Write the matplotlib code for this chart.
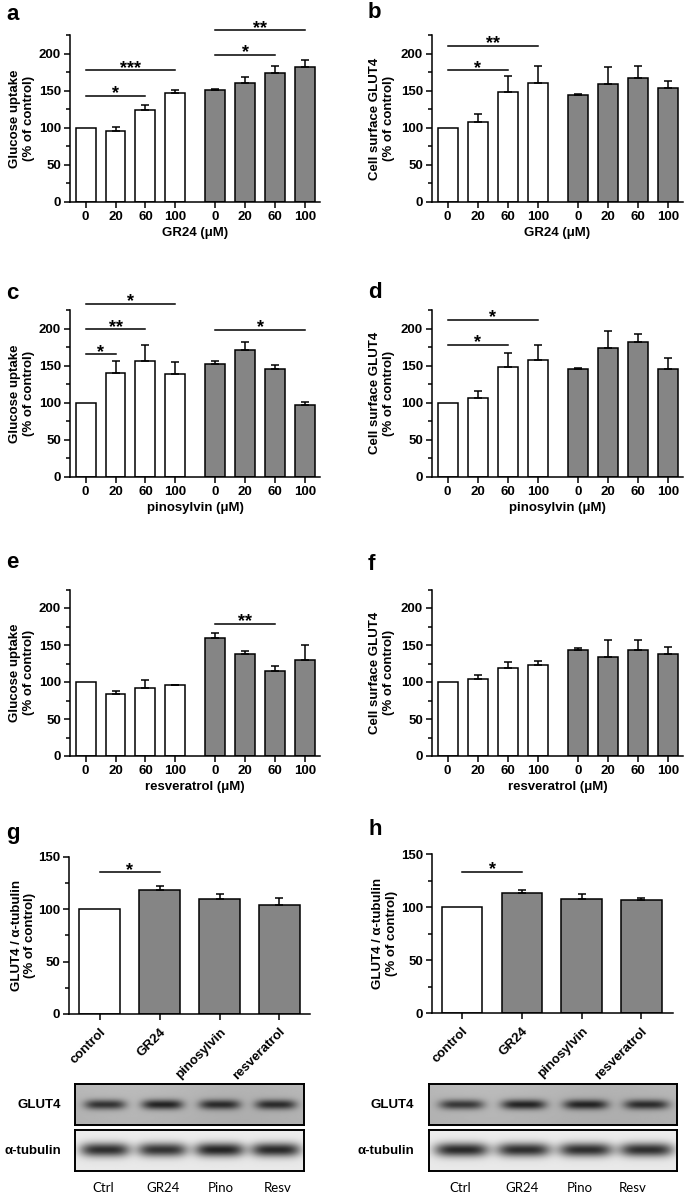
import numpy as np
import matplotlib
matplotlib.use('Agg')
import matplotlib.pyplot as plt
from matplotlib.ticker import MultipleLocator

plt.rcParams['font.family'] = ['Liberation Sans', 'DejaVu Sans']
plt.rcParams['font.weight'] = 'bold'
plt.rcParams['axes.labelweight'] = 'bold'

W, H = 685, 1194
fig = plt.figure(figsize=(W / 100, H / 100), dpi=100)

# ---------------- data ----------------
doses = ['0', '20', '60', '100', '0', '20', '60', '100']
groups = [0, 0, 0, 0, 1, 1, 1, 1]   # 0 = white (basal), 1 = grey

a_vals = [100, 95.5, 123.4, 146.4, 151.4, 160.8, 173.9, 182.0]
a_err = [0, 5, 7, 5, 1.3, 7, 10, 9]
a_sig = [(0, 2, 143, '*'), (0, 3, 177.5, '***'), (4, 6, 198, '*'), (4, 7, 231.5, '**')]

b_vals = [100, 108.1, 148.2, 160.4, 144.1, 158.6, 167.1, 154.0]
b_err = [0, 11, 21, 23, 2, 23, 16, 9]
b_sig = [(0, 2, 177.5, '*'), (0, 3, 210.8, '**')]

c_vals = [100, 139.6, 156.3, 139.2, 151.8, 171.6, 145.0, 96.4]
c_err = [0, 16.7, 21, 15, 5, 10, 5.5, 5]
c_sig = [(0, 1, 165.3, '*'), (0, 2, 199, '**'), (0, 3, 233.3, '*'), (4, 7, 198.2, '*')]

d_vals = [100, 106.8, 148.6, 157.7, 145.0, 173.9, 181.5, 145.5]
d_err = [0, 9.5, 19, 20, 2, 23, 11, 15]
d_sig = [(0, 2, 177.9, '*'), (0, 3, 211.7, '*')]

e_vals = [100, 83.5, 92.5, 95.7, 158.9, 137.7, 115.1, 130.0]
e_err = [0, 5, 10, 0.7, 7, 3.6, 6, 20]
e_sig = [(4, 6, 178.8, '**')]

f_vals = [100, 104.0, 119.4, 123.5, 143.8, 134.3, 142.9, 138.4]
f_err = [0, 5, 8, 4.5, 2.7, 22, 14, 9]
f_sig = []

wb_labels = ['control', 'GR24', 'pinosylvin', 'resveratrol']
wb_groups = [0, 1, 1, 1]
g_vals = [100, 117.9, 109.6, 104.2]
g_err = [0, 3.8, 4.5, 6]
g_sig = [(0, 1, 135, '*')]
h_vals = [100, 113.5, 108.2, 106.9]
h_err = [0, 3, 4.7, 2]
h_sig = [(0, 1, 133.3, '*')]

lanes = ['Ctrl', 'GR24', 'Pino', 'Resv']
g_glut4_band = [0.52, 0.58, 0.53, 0.53]
g_tub_band = [0.74, 0.72, 0.78, 0.76]
h_glut4_band = [0.50, 0.58, 0.56, 0.53]
h_tub_band = [0.76, 0.74, 0.74, 0.74]

FILL = ['white', '#858585']


def ax_at(l, t, r, b):
    return fig.add_axes([l / W, 1 - b / H, (r - l) / W, (b - t) / H])


def ftext(x, y, s, **kw):
    return fig.text(x / W, 1 - y / H, s, **kw)


def style_axis(ax, ytop):
    for s in ['top', 'right']:
        ax.spines[s].set_visible(False)
    for s in ['left', 'bottom']:
        ax.spines[s].set_linewidth(1.1)
    ax.tick_params(axis='both', which='major', direction='out', length=4.5,
                   width=1.1, labelsize=9.5, pad=2)
    ax.tick_params(axis='y', which='minor', direction='out', length=3, width=1.1)
    ax.yaxis.set_major_locator(MultipleLocator(50))
    ax.yaxis.set_minor_locator(MultipleLocator(25))
    ax.set_ylim(0, ytop)


def draw_bars(ax, xs, vals, errs, grp, width):
    cols = [FILL[g] for g in grp]
    ax.bar(xs, vals, width=width, color=cols, edgecolor='black', linewidth=1.1, zorder=2)
    xe = [x for x, e in zip(xs, errs) if e > 0]
    ve = [v for v, e in zip(vals, errs) if e > 0]
    ee = [e for e in errs if e > 0]
    ax.errorbar(xe, ve, yerr=[np.zeros(len(ee)), ee], fmt='none', ecolor='black',
                elinewidth=1.1, capsize=2.6, capthick=1.1, zorder=3)


def draw_sig(ax, xs, sig):
    for i, j, y, s in sig:
        ax.plot([xs[i], xs[j]], [y, y], color='black', lw=1.1, clip_on=False, zorder=4)
        ax.annotate(s, xy=((xs[i] + xs[j]) / 2, y), xytext=(0, -1.8),
                    textcoords='offset points', ha='center', va='baseline',
                    fontsize=13, fontweight='bold', annotation_clip=False)


xpos = [i + (0.333 if g else 0) for i, g in enumerate(groups)]

dose_panels = [
    (a_vals, a_err, a_sig, 70, 320, 35, 202, 'Glucose uptake\n(% of control)', 'GR24 (μM)', 22),
    (b_vals, b_err, b_sig, 432, 683, 35, 202, 'Cell surface GLUT4\n(% of control)', 'GR24 (μM)', 382),
    (c_vals, c_err, c_sig, 70, 320, 310, 476.7, 'Glucose uptake\n(% of control)', 'pinosylvin (μM)', 22),
    (d_vals, d_err, d_sig, 432, 683, 310, 476.7, 'Cell surface GLUT4\n(% of control)', 'pinosylvin (μM)', 382),
    (e_vals, e_err, e_sig, 70, 320, 589.5, 756, 'Glucose uptake\n(% of control)', 'resveratrol (μM)', 22),
    (f_vals, f_err, f_sig, 432, 683, 589.5, 756, 'Cell surface GLUT4\n(% of control)', 'resveratrol (μM)', 382),
]

for vals, err, sig, l, r, t, b, ylab, xlab, ylx in dose_panels:
    ax = ax_at(l, t, r, b)
    style_axis(ax, 225)
    draw_bars(ax, xpos, vals, err, groups, 0.667)
    draw_sig(ax, xpos, sig)
    ax.set_xlim(-0.52, 7.83)
    ax.set_xticks(xpos)
    ax.set_xticklabels(doses)
    ax.set_xlabel(xlab, fontsize=9.5, labelpad=3)
    ftext(ylx, (t + b) / 2, ylab, rotation=90, ha='center', va='center',
          fontsize=9.5, fontweight='bold', linespacing=1.15)

# ---------------- western blot quantification ----------------
wb_panels = [
    (g_vals, g_err, g_sig, 69.3, 310, 856.7, 1014, (-0.51, 3.51), 23.5,
     (75, 304), g_glut4_band, g_tub_band, 61, [103, 163, 221, 278]),
    (h_vals, h_err, h_sig, 432.3, 673, 854.3, 1013.3, (-0.5, 3.53), 385,
     (429, 677), h_glut4_band, h_tub_band, 414, [460, 521.7, 580, 633]),
]


def make_blot(intens, kind, w=240, h=42):
    yy, xx = np.mgrid[0:h, 0:w].astype(float)
    centers = (np.array([0.13, 0.38, 0.63, 0.875]) * w)
    if kind == 'glut4':
        img = 0.72 - 0.03 * (yy / h) + 0.015 * np.sin(xx / 37.0)
        for c, a in zip(centers, intens):
            img -= a * np.exp(-((xx - c) / (0.09 * w)) ** 4 - ((yy - 0.49 * h) / (0.12 * h)) ** 2)
    else:
        img = 0.93 - 0.02 * (yy / h)
        for c, a in zip(centers, intens):
            img -= a * np.exp(-((xx - c) / (0.108 * w)) ** 4 - ((yy - 0.47 * h) / (0.17 * h)) ** 2)
    return np.clip(img, 0, 1)


for (vals, err, sig, l, r, t, b, xl, ylx, (bl, br), gband, tband, labx, lanex) in wb_panels:
    ax = ax_at(l, t, r, b)
    style_axis(ax, 150)
    xs = list(range(len(vals)))
    draw_bars(ax, xs, vals, err, wb_groups, 0.68)
    draw_sig(ax, xs, sig)
    ax.set_xlim(*xl)
    ax.set_xticks(xs)
    ax.set_xticklabels(wb_labels, rotation=45, ha='right', rotation_mode='anchor')
    ax.tick_params(axis='x', pad=4)
    ftext(ylx, (t + b) / 2, 'GLUT4 / α-tubulin\n(% of control)', rotation=90,
          ha='center', va='center', fontsize=9.5, fontweight='bold', linespacing=1.15)

    for (bt, bb, kind, band, name) in [(1084, 1125, 'glut4', gband, 'GLUT4'),
                                        (1130, 1171, 'tub', tband, 'α-tubulin')]:
        bax = ax_at(bl, bt, br, bb)
        bax.imshow(make_blot(band, kind), cmap='gray', vmin=0, vmax=1,
                   aspect='auto', interpolation='bilinear')
        bax.set_xticks([])
        bax.set_yticks([])
        for s in bax.spines.values():
            s.set_linewidth(1.4)
        ftext(labx, (bt + bb) / 2, name, ha='right', va='center', fontsize=9.5,
              fontweight='bold')
    for lx, lname in zip(lanex, lanes):
        ftext(lx, 1188, lname, ha='center', va='center', fontsize=9.5,
              fontweight='normal', family=['Lato', 'DejaVu Sans'])

# panel letters
for s, x, y in [('a', 6, 20), ('b', 368, 18), ('c', 6, 299), ('d', 368, 298),
                ('e', 6, 568), ('f', 368, 570), ('g', 6, 839), ('h', 368, 835)]:
    ftext(x, y, s, ha='left', va='baseline', fontsize=16, fontweight='bold')

fig.savefig('out.png', dpi=100)
